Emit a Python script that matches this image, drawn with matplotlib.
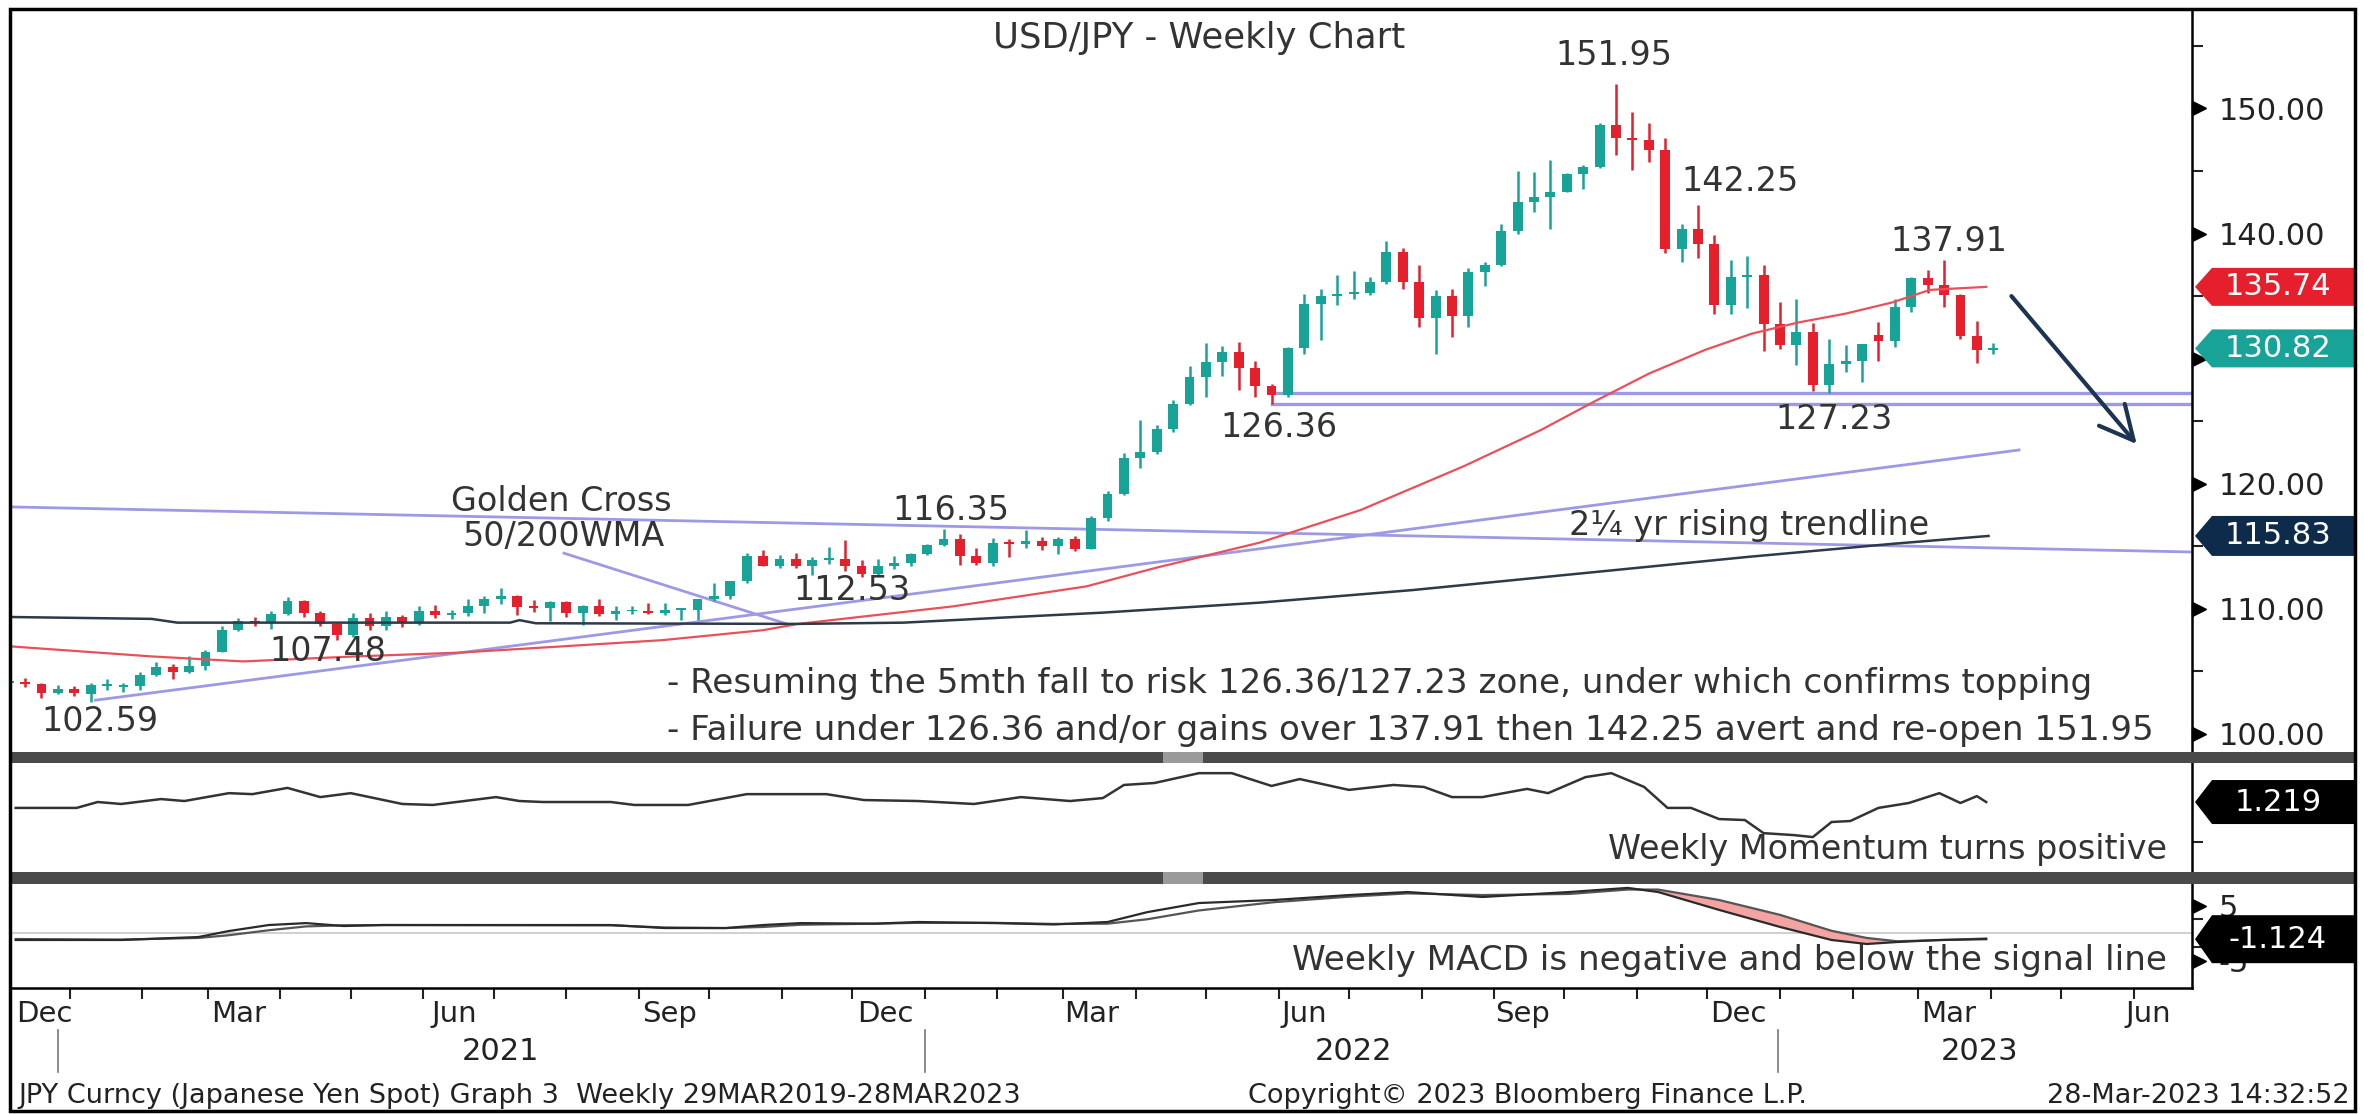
import numpy as np
import pandas as pd
import matplotlib
matplotlib.use('Agg')
import matplotlib.pyplot as plt
import matplotlib.dates as mdates
from matplotlib.patches import Polygon, Rectangle
from matplotlib.transforms import IdentityTransform

W, H = 2364, 1114

# ---- weekly USD/JPY bars (Friday dates) ----
week = pd.date_range('2020-12-04', '2023-03-31', freq='W-FRI')
bar_open = [104.05, 104.15, 104.00, 103.30, 103.60, 103.20, 103.85, 103.75, 103.80, 104.68,
            105.38, 104.95, 105.45, 106.57, 108.30, 109.00, 108.90, 109.60, 110.60, 109.65,
            108.80, 107.90, 109.30, 108.60, 109.35, 108.95, 109.85, 109.50, 109.65, 110.20,
            110.75, 111.05, 110.15, 110.07, 110.55, 109.70, 110.25, 109.60, 109.80, 109.85,
            109.70, 109.90, 109.95, 110.75, 111.05, 112.20, 114.20, 113.45, 114.00, 113.40,
            113.90, 114.00, 113.40, 112.80, 113.40, 113.70, 114.40, 115.10, 115.55, 114.20,
            113.70, 115.25, 115.20, 115.40, 115.00, 115.55, 114.80, 117.30, 119.20, 122.05,
            122.50, 124.35, 126.40, 128.50, 129.75, 130.55, 129.25, 127.85, 127.10, 130.85,
            134.40, 135.00, 135.20, 135.25, 136.10, 138.55, 136.10, 133.25, 135.00, 133.45,
            136.95, 137.45, 140.20, 142.55, 142.90, 143.35, 144.75, 145.30, 148.70, 147.65,
            147.45, 146.65, 138.80, 140.40, 139.15, 134.30, 136.55, 136.65, 132.80, 131.10,
            132.10, 127.90, 129.60, 129.85, 131.90, 131.40, 134.10, 136.45, 135.85, 135.05,
            131.80, 130.70]
bar_high = [104.75, 104.50, 104.05, 103.90, 103.80, 104.10, 104.40, 104.10, 104.95, 105.75,
            105.60, 106.20, 106.70, 108.65, 109.25, 109.35, 109.85, 110.95, 110.70, 109.80,
            108.90, 109.70, 109.65, 109.80, 109.50, 110.20, 110.35, 109.90, 110.80, 111.00,
            111.65, 111.10, 110.70, 110.60, 110.60, 110.35, 110.80, 110.25, 110.25, 110.45,
            110.45, 110.05, 110.80, 112.05, 112.25, 114.45, 114.70, 114.30, 114.45, 114.15,
            114.95, 115.50, 113.90, 113.95, 114.25, 114.50, 115.20, 116.35, 116.00, 114.85,
            115.70, 115.60, 116.30, 115.75, 115.75, 115.80, 117.40, 119.40, 122.45, 125.10,
            124.70, 126.70, 129.40, 131.25, 131.00, 131.35, 129.80, 128.00, 130.95, 135.20,
            135.60, 136.70, 137.00, 136.55, 139.40, 138.85, 137.45, 135.50, 135.60, 137.25,
            137.70, 140.80, 144.99, 144.95, 145.90, 144.85, 145.45, 148.85, 151.95, 149.70,
            148.85, 147.60, 140.80, 142.25, 139.90, 137.85, 138.20, 137.45, 134.50, 134.75,
            132.85, 131.55, 131.10, 131.20, 132.90, 134.80, 136.50, 137.10, 137.91, 135.15,
            133.00, 131.25]
bar_low = [103.65, 103.75, 102.90, 103.20, 103.00, 102.59, 103.55, 103.35, 103.55, 104.60,
           104.40, 104.85, 105.15, 106.55, 108.20, 108.60, 108.40, 109.55, 109.35, 108.60,
           107.48, 107.75, 108.35, 108.35, 108.55, 108.70, 109.30, 109.20, 109.45, 109.70,
           110.40, 109.55, 109.75, 109.05, 109.35, 108.70, 109.40, 109.10, 109.60, 109.60,
           109.55, 109.10, 109.10, 110.60, 110.80, 112.10, 113.40, 113.25, 113.25, 112.70,
           113.60, 113.05, 112.53, 112.70, 113.15, 113.40, 114.30, 115.00, 113.50, 113.50,
           113.45, 114.15, 114.85, 114.70, 114.40, 114.65, 114.80, 117.00, 119.10, 121.28,
           122.40, 124.10, 126.30, 126.95, 128.60, 127.50, 126.95, 126.36, 126.90, 130.40,
           131.50, 134.25, 134.75, 135.10, 135.95, 135.55, 132.50, 130.40, 131.75, 132.55,
           135.80, 137.40, 140.00, 141.70, 140.35, 143.30, 143.55, 145.25, 146.25, 145.10,
           145.70, 138.45, 137.70, 138.05, 133.60, 133.60, 134.05, 130.60, 130.80, 129.50,
           127.45, 127.23, 128.90, 128.10, 129.80, 130.90, 133.70, 135.25, 134.10, 131.55,
           129.65, 130.40]
bar_close = [104.15, 104.00, 103.30, 103.60, 103.25, 103.94, 103.90, 103.80, 104.68, 105.38,
             104.95, 105.45, 106.57, 108.30, 109.00, 108.90, 109.60, 110.60, 109.65, 108.80,
             107.90, 109.30, 108.60, 109.35, 108.95, 109.85, 109.50, 109.65, 110.20, 110.75,
             111.05, 110.15, 110.07, 110.55, 109.70, 110.25, 109.60, 109.80, 109.85, 109.70,
             109.90, 109.95, 110.75, 111.05, 112.20, 114.20, 113.45, 114.00, 113.40, 113.90,
             114.00, 113.40, 112.80, 113.40, 113.70, 114.40, 115.10, 115.55, 114.20, 113.70,
             115.25, 115.20, 115.40, 115.00, 115.55, 114.80, 117.30, 119.20, 122.05, 122.50,
             124.35, 126.40, 128.50, 129.75, 130.55, 129.25, 127.85, 127.10, 130.85, 134.40,
             135.00, 135.20, 135.25, 136.10, 138.55, 136.10, 133.25, 135.00, 133.45, 136.95,
             137.45, 140.20, 142.55, 142.90, 143.35, 144.75, 145.30, 148.70, 147.65, 147.45,
             146.65, 138.80, 140.40, 139.15, 134.30, 136.55, 136.65, 132.80, 131.10, 132.10,
             127.90, 129.60, 129.85, 131.15, 131.40, 134.10, 136.45, 135.85, 135.05, 131.80,
             130.70, 130.82]

# 50 week MA (red) and 200 week MA (dark)
ma50_dates = ['2020-12-05', '2021-02-03', '2021-03-14', '2021-05-01', '2021-06-14', '2021-07-28',
              '2021-09-09', '2021-10-22', '2021-11-06', '2022-01-11', '2022-03-09', '2022-04-08',
              '2022-05-22', '2022-07-04', '2022-08-17', '2022-09-19', '2022-10-12', '2022-11-04',
              '2022-11-28', '2022-12-18', '2023-01-07', '2023-01-27', '2023-02-16', '2023-03-04',
              '2023-03-28']
ma50_vals = [107.0, 106.2, 105.8, 106.2, 106.5, 107.0, 107.5, 108.3, 108.8, 110.2, 111.8, 113.3,
             115.3, 117.9, 121.4, 124.3, 126.6, 128.8, 130.7, 132.0, 132.9, 133.6, 134.5, 135.5,
             135.74]
ma200_dates = ['2020-12-05', '2021-02-03', '2021-02-14', '2021-07-06', '2021-07-10', '2021-07-17',
               '2021-11-06', '2021-12-21', '2022-02-01', '2022-03-16', '2022-05-22', '2022-07-26',
               '2022-10-15', '2022-12-16', '2023-02-16', '2023-03-29']
ma200_vals = [109.35, 109.2, 108.9, 108.9, 109.1, 108.85, 108.8, 108.9, 109.3, 109.7, 110.5, 111.5,
              113.0, 114.15, 115.2, 115.83]

# trend lines
down_line_dates = ['2020-12-05', '2023-06-23']
down_line_vals = [118.15, 114.55]
rise_line_dates = ['2021-01-10', '2023-04-11']
rise_line_vals = [102.7, 122.7]
support_start, support_end = '2022-05-27', '2023-06-23'
support_levels = [126.36, 127.23]
gc_dates = ['2021-07-29', '2021-11-01']
gc_vals = [114.45, 108.8]
arrow_dates = ['2023-04-07', '2023-06-01']
arrow_vals = [135.17, 123.0]

# momentum
mom_dates = ['2020-12-07', '2021-01-02', '2021-01-11', '2021-01-21', '2021-02-07', '2021-02-17',
             '2021-03-08', '2021-03-18', '2021-04-02', '2021-04-16', '2021-04-29', '2021-05-21',
             '2021-06-03', '2021-06-30', '2021-07-10', '2021-07-20', '2021-08-18', '2021-08-28',
             '2021-09-20', '2021-10-15', '2021-11-18', '2021-12-04', '2021-12-27', '2022-01-20',
             '2022-02-09', '2022-03-02', '2022-03-16', '2022-03-25', '2022-04-07', '2022-04-26',
             '2022-05-10', '2022-05-27', '2022-06-08', '2022-06-29', '2022-07-18', '2022-07-31',
             '2022-08-12', '2022-08-25', '2022-09-13', '2022-09-22', '2022-10-08', '2022-10-19',
             '2022-11-02', '2022-11-12', '2022-11-22', '2022-12-04', '2022-12-15', '2022-12-23',
             '2023-01-05', '2023-01-13', '2023-01-21', '2023-01-29', '2023-02-10', '2023-02-23',
             '2023-03-08', '2023-03-17', '2023-03-24', '2023-03-28']
mom_vals = [1.04, 1.04, 1.22, 1.16, 1.31, 1.25, 1.49, 1.46, 1.65, 1.37, 1.49, 1.16, 1.13, 1.37,
            1.25, 1.22, 1.22, 1.13, 1.13, 1.46, 1.46, 1.28, 1.25, 1.16, 1.37, 1.25, 1.34, 1.74,
            1.80, 2.10, 2.10, 1.71, 1.92, 1.59, 1.74, 1.68, 1.37, 1.37, 1.62, 1.49, 1.98, 2.10,
            1.68, 1.04, 1.04, 0.70, 0.67, 0.27, 0.21, 0.15, 0.61, 0.64, 1.04, 1.19, 1.49, 1.19,
            1.40, 1.219]

# MACD and signal
macd_dates = ['2020-12-07', '2021-01-21', '2021-02-23', '2021-03-08', '2021-03-25', '2021-04-10',
              '2021-04-26', '2021-05-13', '2021-08-18', '2021-09-10', '2021-10-06', '2021-10-22',
              '2021-11-07', '2021-12-09', '2021-12-27', '2022-01-29', '2022-02-23', '2022-03-18',
              '2022-04-04', '2022-04-26', '2022-05-28', '2022-06-29', '2022-07-24', '2022-08-25',
              '2022-10-01', '2022-10-26', '2022-11-08', '2022-12-04', '2022-12-30', '2023-01-21',
              '2023-02-05', '2023-02-18', '2023-03-08', '2023-03-28']
macd_vals = [-1.27, -1.27, -0.73, 0.36, 1.45, 1.8, 1.27, 1.45, 1.45, 0.9, 0.9, 1.45, 1.8, 1.7,
             2.0, 1.8, 1.55, 2.0, 3.8, 5.45, 6.0, 6.9, 7.45, 6.55, 7.45, 8.2, 7.45, 4.2, 1.1,
             -1.27, -2.0, -1.64, -1.27, -1.124]
signal_vals = [-1.1, -1.2, -0.9, -0.4, 0.5, 1.2, 1.4, 1.45, 1.4, 1.0, 0.9, 1.1, 1.5, 1.7, 1.85,
               1.85, 1.65, 1.7, 2.5, 4.1, 5.6, 6.6, 7.2, 6.9, 7.1, 7.9, 7.9, 6.0, 3.3, 0.4, -0.9,
               -1.5, -1.3, -1.0]

TEAL = '#17a398'
RED = '#e5202c'
LAV = '#9d99e4'
TXT = '#333333'
NAVY = '#0f2b4c'

fig = plt.figure(figsize=(W / 100, H / 100), dpi=100)
fig.patch.set_facecolor('white')
ident = IdentityTransform()


def rect(l, t, r, b):
    return [l / W, 1 - b / H, (r - l) / W, (b - t) / H]


ax1 = fig.add_axes(rect(12, 10, 2192, 752))
ax2 = fig.add_axes(rect(12, 763, 2192, 872))
ax3 = fig.add_axes(rect(12, 884, 2192, 988))

xl = mdates.date2num(pd.to_datetime(['2020-12-05 10:00', '2023-06-23 20:00']))
for ax in (ax1, ax2, ax3):
    ax.set_xlim(xl[0], xl[1])
    for s in ('top', 'left', 'bottom'):
        ax.spines[s].set_visible(False)
    ax.spines['right'].set_linewidth(1.8)
    ax.yaxis.tick_right()
    ax.tick_params(axis='x', which='both', bottom=False, labelbottom=False)

d = lambda lst: mdates.date2num(pd.to_datetime(lst))

# ---- main panel ----
ax1.set_ylim(98.56, 157.87)
xb = mdates.date2num(week)
o = np.array(bar_open); h = np.array(bar_high); l = np.array(bar_low); c = np.array(bar_close)
col = np.where(c >= o, TEAL, RED)
ax1.vlines(xb, l, h, colors=col, lw=1.8, zorder=3)
ax1.bar(xb, np.maximum(np.abs(c - o), 0.15), bottom=np.minimum(o, c), width=4.2,
        color=col, lw=0, zorder=3.2)

ax1.plot(d(down_line_dates), down_line_vals, color=LAV, lw=2, zorder=2)
ax1.plot(d(rise_line_dates), rise_line_vals, color=LAV, lw=2, zorder=2)
for lev in support_levels:
    ax1.plot(d([support_start, support_end]), [lev, lev], color=LAV, lw=2.4, zorder=2)
ax1.plot(d(gc_dates), gc_vals, color=LAV, lw=2, zorder=2)
ax1.plot(d(ma50_dates), ma50_vals, color='#e8505a', lw=1.6, zorder=4)
ax1.plot(d(ma200_dates), ma200_vals, color='#2d3a48', lw=1.8, zorder=4)
ax1.annotate('', xy=(d([arrow_dates[1]])[0], arrow_vals[1]),
             xytext=(d([arrow_dates[0]])[0], arrow_vals[0]),
             arrowprops=dict(arrowstyle='->,head_length=0.9,head_width=0.45',
                             color='#1c3452', lw=3, mutation_scale=27))

notes = [('151.95', '2022-10-20', 154.2, 'center'),
         ('142.25', '2022-11-18', 144.15, 'left'),
         ('137.91', '2023-03-12', 139.4, 'center'),
         ('127.23', '2023-01-22', 125.1, 'center'),
         ('126.36', '2022-05-30', 124.5, 'center'),
         ('116.35', '2022-01-10', 117.9, 'center'),
         ('112.53', '2021-11-29', 111.5, 'center'),
         ('107.48', '2021-04-19', 106.6, 'center'),
         ('102.59', '2021-01-12', 101.0, 'center'),
         ('Golden Cross', '2021-07-28', 118.6, 'center'),
         ('50/200WMA', '2021-07-29', 115.75, 'center'),
         ('2\u00bc yr rising trendline', '2022-10-01', 116.7, 'left')]
for txt, dt, yv, ha in notes:
    ax1.text(d([dt])[0], yv, txt, ha=ha, va='center', fontsize=24, color=TXT, zorder=6)

ax1.text(d(['2021-09-11'])[0], 104.0,
         '- Resuming the 5mth fall to risk 126.36/127.23 zone, under which confirms topping',
         ha='left', va='center', fontsize=24.6, color=TXT)
ax1.text(d(['2021-09-11'])[0], 100.3,
         '- Failure under 126.36 and/or gains over 137.91 then 142.25 avert and re-open 151.95',
         ha='left', va='center', fontsize=24.6, color=TXT)
ax1.text(0.5445, 0.962, 'USD/JPY - Weekly Chart', transform=ax1.transAxes,
         ha='center', va='center', fontsize=25.5, color=TXT)

major = [100, 110, 120, 130, 140, 150]
ax1.set_yticks(major)
# 130.00 sits behind the price tags in the original
ax1.set_yticklabels([f'{v:.2f}' if v != 130 else '' for v in major])
ax1.set_yticks([105, 115, 125, 135, 145, 155], minor=True)
ax1.tick_params(axis='y', which='major', length=0, pad=19, labelsize=22, labelcolor='#222')
ax1.tick_params(axis='y', which='minor', length=8, width=1.5, color='#222')
ax1.plot(np.full(len(major), 1.0032), major, ls='none', marker='>', ms=10, color='black',
         transform=ax1.get_yaxis_transform(), clip_on=False)

# ---- momentum panel ----
ax2.set_ylim(-0.915, 2.41)
ax2.plot(d(mom_dates), mom_vals, color='#333', lw=1.8)
ax2.set_yticks([])
ax2.set_yticks([0], minor=True)
ax2.tick_params(axis='y', which='minor', length=8, width=1.5, color='#222')
ax2.text(0.9885, 0.21, 'Weekly Momentum turns positive', transform=ax2.transAxes,
         ha='right', va='center', fontsize=24, color=TXT)

# ---- MACD panel ----
ax3.set_ylim(-10.0, 8.91)
ax3.axhline(0, color='#c8c8c8', lw=1.2, zorder=1)
xm = d(macd_dates)
mv = np.array(macd_vals); sv = np.array(signal_vals)
ax3.fill_between(xm, mv, sv, where=mv < sv, interpolate=True, color='#f4a3a3', lw=0, zorder=2)
ax3.plot(xm, sv, color='#555', lw=1.6, zorder=3)
ax3.plot(xm, mv, color='#2a2a2a', lw=1.6, zorder=3)
ax3.set_yticks([-5, 5])
ax3.set_yticklabels(['-5', '5'])
ax3.set_yticks([-2.5, 2.5], minor=True)
ax3.tick_params(axis='y', which='major', length=0, pad=19, labelsize=22, labelcolor='#222')
ax3.tick_params(axis='y', which='minor', length=8, width=1.5, color='#222')
ax3.plot([1.0032, 1.0032], [-5, 5], ls='none', marker='>', ms=10, color='black',
         transform=ax3.get_yaxis_transform(), clip_on=False)
ax3.text(0.9885, 0.269, 'Weekly MACD is negative and below the signal line', transform=ax3.transAxes,
         ha='right', va='center', fontsize=24.6, color=TXT)

# x axis
ax3.spines['bottom'].set_visible(True)
ax3.spines['bottom'].set_linewidth(1.8)
month_ticks = pd.date_range('2021-01-01', '2023-06-01', freq='MS') - pd.Timedelta(days=2)
ax3.set_xticks(mdates.date2num(month_ticks))
ax3.tick_params(axis='x', which='major', bottom=True, length=8, width=1.5, direction='out',
                labelbottom=False, color='#222')
month_names = ['Dec', 'Mar', 'Jun', 'Sep', 'Dec', 'Mar', 'Jun', 'Sep', 'Dec', 'Mar', 'Jun']
month_pos = ['2020-12-19', '2021-03-12', '2021-06-12', '2021-09-12', '2021-12-13', '2022-03-11',
             '2022-06-10', '2022-09-11', '2022-12-12', '2023-03-12', '2023-06-05']
xt = ax3.get_xaxis_transform()
for nm, dt in zip(month_names, month_pos):
    ax3.text(d([dt])[0], -0.25, nm, transform=xt, ha='center', va='center', fontsize=21,
             color='#222', clip_on=False)
years = ['2021', '2022', '2023']
year_pos = ['2021-07-02', '2022-07-01', '2023-03-25']
year_sep = ['2020-12-25', '2021-12-30', '2022-12-29']
for yr, dt in zip(years, year_pos):
    ax3.text(d([dt])[0], -0.615, yr, transform=xt, ha='center', va='center', fontsize=22,
             color='#222', clip_on=False)
for dt in year_sep:
    ax3.plot([d([dt])[0]] * 2, [-0.40, -0.81], transform=xt, color='#777', lw=1.2, clip_on=False)

# separator bars and frame
for top, bot in [(752, 763), (872, 884)]:
    fig.add_artist(Rectangle((10, H - bot), 2345, bot - top, transform=ident,
                             fc='#4a4a4a', ec='none', zorder=5))
    fig.add_artist(Rectangle((1163, H - bot), 40, bot - top, transform=ident,
                             fc='#9a9a9a', ec='none', zorder=6))
fig.add_artist(Rectangle((10, H - 1111), 2345, 1102, transform=ident, fill=False,
                         ec='black', lw=2.5, zorder=30))


def tag(ax, val, label, color, hh):
    y = ax.transData.transform((ax.get_xlim()[0], val))[1]
    x0 = ax.transAxes.transform((1, 0))[0]
    pts = [(x0 + 3, y), (x0 + 20, y + hh), (x0 + 163, y + hh), (x0 + 163, y - hh), (x0 + 20, y - hh)]
    fig.add_artist(Polygon(pts, closed=True, transform=ident, fc=color, ec='none', zorder=20))
    fig.text(x0 + 86, y, label, transform=ident, ha='center', va='center', color='white',
             fontsize=22, zorder=21)


tag(ax1, bar_close[-1], '130.82', TEAL, 19)
tag(ax1, ma50_vals[-1], '135.74', RED, 19)
tag(ax1, ma200_vals[-1], '115.83', NAVY, 20)
tag(ax2, mom_vals[-1], '1.219', 'black', 22)
tag(ax3, macd_vals[-1], '-1.124', 'black', 24)

# footer
fy = 1 - 1096 / H
fig.text(18 / W, fy, 'JPY Curncy (Japanese Yen Spot) Graph 3  Weekly 29MAR2019-28MAR2023',
         ha='left', va='center', fontsize=19.5, color='#222')
fig.text(1527 / W, fy, 'Copyright\u00a9 2023 Bloomberg Finance L.P.', ha='center', va='center',
         fontsize=19.5, color='#222')
fig.text(2350 / W, fy, '28-Mar-2023 14:32:52', ha='right', va='center', fontsize=19.5, color='#222')

fig.savefig('out.png', dpi=100, facecolor='white')
